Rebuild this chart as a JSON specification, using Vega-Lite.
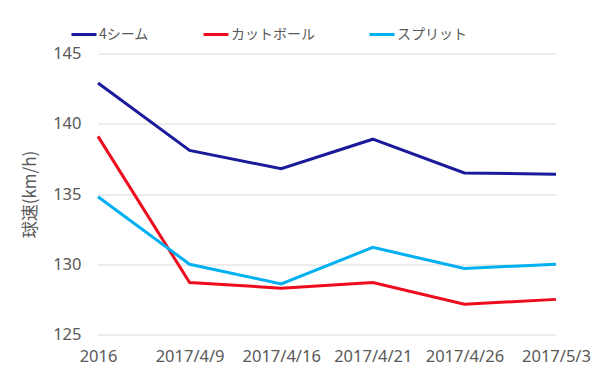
{
  "$schema": "https://vega.github.io/schema/vega-lite/v6.json",
  "autosize": {"type": "none"},
  "width": 458,
  "height": 281,
  "padding": {"left": 98, "top": 53.5, "right": 50, "bottom": 43.5},
  "background": "white",
  "config": {
    "view": {"stroke": null},
    "font": "Noto Sans"
  },
  "data": {
    "values": [
      {"date": "2016", "type": "4シーム", "speed": 142.9},
      {"date": "2017/4/9", "type": "4シーム", "speed": 138.1},
      {"date": "2017/4/16", "type": "4シーム", "speed": 136.8},
      {"date": "2017/4/21", "type": "4シーム", "speed": 138.9},
      {"date": "2017/4/26", "type": "4シーム", "speed": 136.5},
      {"date": "2017/5/3", "type": "4シーム", "speed": 136.4},
      {"date": "2016", "type": "カットボール", "speed": 139.1},
      {"date": "2017/4/9", "type": "カットボール", "speed": 128.7},
      {"date": "2017/4/16", "type": "カットボール", "speed": 128.3},
      {"date": "2017/4/21", "type": "カットボール", "speed": 128.7},
      {"date": "2017/4/26", "type": "カットボール", "speed": 127.15},
      {"date": "2017/5/3", "type": "カットボール", "speed": 127.5},
      {"date": "2016", "type": "スプリット", "speed": 134.8},
      {"date": "2017/4/9", "type": "スプリット", "speed": 130.0},
      {"date": "2017/4/16", "type": "スプリット", "speed": 128.6},
      {"date": "2017/4/21", "type": "スプリット", "speed": 131.2},
      {"date": "2017/4/26", "type": "スプリット", "speed": 129.7},
      {"date": "2017/5/3", "type": "スプリット", "speed": 130.0}
    ]
  },
  "mark": {"type": "line", "strokeWidth": 3},
  "encoding": {
    "x": {
      "field": "date",
      "type": "ordinal",
      "sort": ["2016", "2017/4/9", "2017/4/16", "2017/4/21", "2017/4/26", "2017/5/3"],
      "scale": {"type": "point", "padding": 0},
      "axis": {
        "title": null,
        "labelAngle": 0,
        "ticks": false,
        "domain": false,
        "labelPadding": 14,
        "labelFontSize": 16.5,
        "labelColor": "#595959",
        "labelFont": "Noto Sans"
      }
    },
    "y": {
      "field": "speed",
      "type": "quantitative",
      "scale": {"domain": [125, 145], "zero": false, "nice": false},
      "axis": {
        "title": "球速(km/h)",
        "titleFont": "Noto Sans CJK JP",
        "titleFontWeight": "normal",
        "titleFontSize": 17,
        "titleColor": "#595959",
        "titlePadding": 13,
        "values": [125, 130, 135, 140, 145],
        "ticks": false,
        "domain": false,
        "labelPadding": 17,
        "labelFontSize": 16.5,
        "labelColor": "#595959",
        "gridColor": "#d9d9d9",
        "gridWidth": 1
      }
    },
    "color": {
      "field": "type",
      "type": "nominal",
      "scale": {
        "domain": ["4シーム", "カットボール", "スプリット"],
        "range": ["#1a1a9a", "#ec0c1e", "#00b0f0"]
      },
      "legend": {
        "title": null,
        "orient": "none",
        "legendX": -28,
        "legendY": -33,
        "direction": "horizontal",
        "columns": 3,
        "columnPadding": 48,
        "symbolType": "stroke",
        "symbolSize": 625,
        "symbolStrokeWidth": 3,
        "labelOffset": 1,
        "labelFont": "Noto Sans CJK JP",
        "labelFontSize": 14,
        "labelColor": "#595959"
      }
    }
  }
}
